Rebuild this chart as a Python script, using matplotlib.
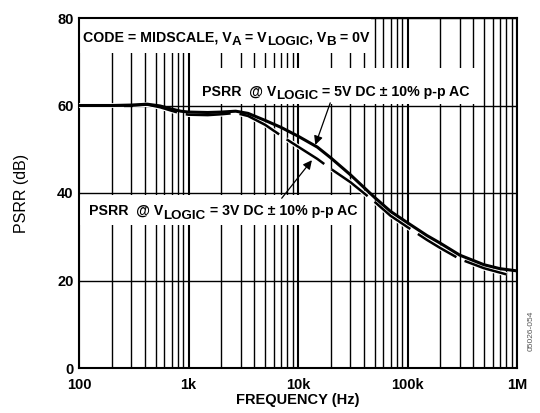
"""PSRR vs frequency, two VLOGIC supplies, log-x datasheet style."""
import matplotlib
matplotlib.use("Agg")
import matplotlib.pyplot as plt
import matplotlib.patheffects as pe
from matplotlib.patches import Rectangle
from matplotlib.ticker import LogLocator, NullFormatter
from matplotlib.transforms import offset_copy

plt.rcParams["font.family"] = ["Liberation Sans", "DejaVu Sans"]

# ---- data ----
FREQ_5V = [100, 200, 300, 420, 550, 700, 850, 1000, 1500, 2000, 2700, 3500, 5000, 7000,
           10000, 15000, 20000, 30000, 50000, 70000, 100000, 150000, 200000, 300000,
           500000, 700000, 1000000]
PSRR_5V = [60.0, 60.0, 60.1, 60.3, 59.9, 59.2, 58.7, 58.5, 58.4, 58.5, 58.7, 58.2, 56.6, 55.0,
           53.0, 50.5, 48.0, 44.2, 39.0, 35.8, 33.2, 30.3, 28.5, 25.8, 23.6, 22.7, 22.2]

FREQ_3V = [100, 200, 300, 420, 550, 700, 850, 1000, 1500, 2000, 2700, 3500, 5000, 7500,
           10000, 15000, 20000, 30000, 50000, 70000, 100000, 150000, 200000, 300000,
           500000, 800000]
PSRR_3V = [60.0, 60.0, 60.0, 60.2, 59.6, 58.8, 58.2, 57.9, 57.8, 58.0, 58.3, 57.6, 55.6, 52.6,
           50.6, 47.8, 45.5, 42.5, 38.0, 34.8, 32.2, 29.3, 27.4, 24.9, 22.8, 21.4]

X_TICKS = [100, 1000, 10000, 100000, 1000000]
X_LABELS = ["100", "1k", "10k", "100k", "1M"]
Y_TICKS = [0, 20, 40, 60, 80]

FS = 10.2       # annotation text size
SUB_FS = 9.6    # subscripts are nearly full size in the original
SUB_DY = 3.5    # px the subscript drops

fig = plt.figure(figsize=(5.4, 4.13), dpi=100)
ax = fig.add_axes([79 / 540, 45 / 413, 438 / 540, 350 / 413])
renderer = fig.canvas.get_renderer()

ax.set_xscale("log")
ax.set_xlim(100, 1e6)
ax.set_ylim(0, 80)
ax.set_xticks(X_TICKS, labels=X_LABELS, fontsize=10.5, fontweight="bold")
ax.set_yticks(Y_TICKS, labels=[str(v) for v in Y_TICKS], fontsize=10.5, fontweight="bold")
ax.xaxis.set_minor_locator(LogLocator(base=10, subs=range(2, 10)))
ax.xaxis.set_minor_formatter(NullFormatter())
ax.tick_params(which="both", length=0)
ax.tick_params(axis="x", pad=7)
ax.tick_params(axis="y", pad=4)
ax.grid(True, axis="x", which="major", color="black", lw=1.5)
ax.grid(True, axis="x", which="minor", color="black", lw=1.0)
ax.grid(True, axis="y", which="major", color="black", lw=1.0)
for s in ax.spines.values():
    s.set_linewidth(1.5)
    s.set_zorder(2.5)

# white knock-outs behind the annotation text (grid is interrupted there)
for x0, y0, w, h in [(0.0, 0.90, 0.667, 0.10), (0.267, 0.754, 0.644, 0.103),
                     (0.0, 0.409, 0.642, 0.085)]:
    ax.add_patch(Rectangle((x0, y0), w, h, transform=ax.transAxes,
                           facecolor="white", edgecolor="none", zorder=2))

ax.plot(FREQ_3V, PSRR_3V, color="black", lw=1.8, dashes=(18, 3.6), zorder=3,
        path_effects=[pe.Stroke(linewidth=3.4, foreground="white"), pe.Normal()])
ax.plot(FREQ_5V, PSRR_5V, color="black", lw=2.2, zorder=4)


def _width(s, size):
    t = fig.text(0, 0, s, fontsize=size, fontweight="bold")
    w = t.get_window_extent(renderer).width
    t.remove()
    return w


def rich(x, y, parts):
    """text pieces in a row; sub=True pieces drop a few px (datasheet-style subscripts)"""
    xoff = 0.0
    for s, sub in parts:
        size = SUB_FS if sub else FS
        tr = offset_copy(ax.transAxes, fig=fig, x=xoff, y=-SUB_DY if sub else 0, units="dots")
        ax.text(x, y, s, transform=tr, fontsize=size, fontweight="bold",
                va="baseline", ha="left", zorder=6)
        xoff += _width("I" + s + "I", size) - _width("II", size)


rich(0.009, 0.932, [("CODE = MIDSCALE, V", False), ("A", True), (" = V", False),
                    ("LOGIC", True), (", V", False), ("B", True), (" = 0V", False)])
rich(0.280, 0.778, [("PSRR  @ V", False), ("LOGIC", True),
                    (" = 5V DC ± 10% p-p AC", False)])
rich(0.0235, 0.437, [("PSRR  @ V", False), ("LOGIC", True),
                     (" = 3V DC ± 10% p-p AC", False)])

arrow = dict(arrowstyle="-|>", color="black", lw=0.9, mutation_scale=13, shrinkA=0, shrinkB=0)
ax.annotate("", xy=(14400, 51.0), xytext=(19700, 60.6), arrowprops=arrow, zorder=6)
ax.annotate("", xy=(13400, 47.5), xytext=(7100, 38.8), arrowprops=arrow, zorder=6)

fig.text(22 / 540, 1 - 193 / 413, "PSRR (dB)", rotation=90, fontsize=11.5,
         ha="center", va="center")
fig.text(298 / 540, 1 - 400 / 413, "FREQUENCY (Hz)", fontsize=10.5,
         fontweight="bold", ha="center", va="center")
fig.text(531 / 540, 1 - 331 / 413, "05026-054", rotation=90, fontsize=6,
         color="#555555", ha="center", va="center")

fig.savefig("out.png", dpi=100)
